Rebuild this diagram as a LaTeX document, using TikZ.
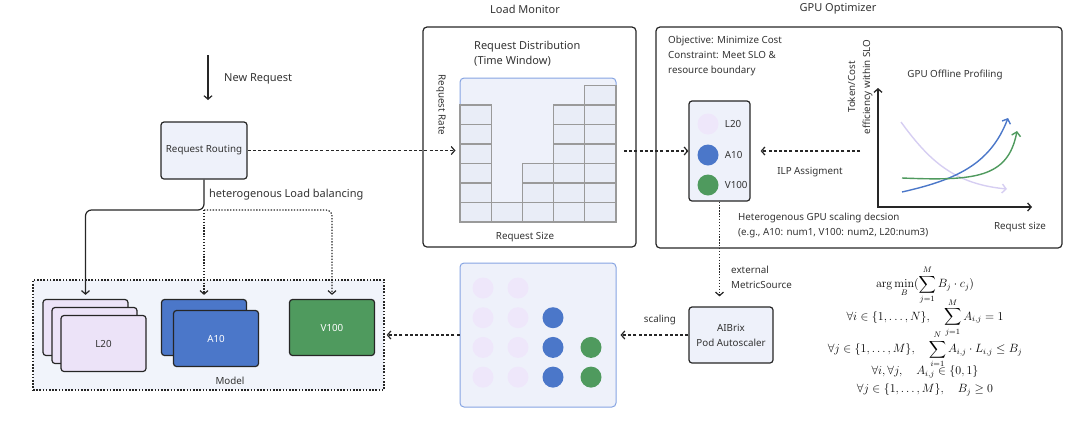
\documentclass[tikz,border=0pt]{standalone}
\usepackage[no-math]{fontspec}
\setmainfont{Noto Sans}
\usepackage{amsmath}
\usetikzlibrary{arrows.meta,positioning,calc}
\definecolor{ink}{HTML}{262626}
\definecolor{txt}{HTML}{333333}
\definecolor{palebox}{HTML}{EEF1FA}
\definecolor{zonefill}{HTML}{F1F4FB}
\definecolor{lavfill}{HTML}{ECE3F8}
\definecolor{lavdot}{HTML}{EEE7FA}
\definecolor{lavline}{HTML}{D6CEF2}
\definecolor{gpublue}{HTML}{4B77C9}
\definecolor{gpugreen}{HTML}{4F9A5E}
\definecolor{framebl}{HTML}{86A4E2}
\definecolor{cellgray}{HTML}{9A9A9A}
\definecolor{cellfill}{HTML}{E9EDF7}
\newcommand{\titlefont}{\fontsize{11}{14}\selectfont}
\newcommand{\lblfont}{\fontsize{11}{15}\selectfont}
\newcommand{\smfont}{\fontsize{9.8}{15}\selectfont}
\tikzset{
  card/.style    ={rounded corners=3pt,draw=ink,line width=1.2pt,fill=palebox,
                   align=center,inner sep=0pt,font=\smfont,text=txt},
  panel/.style   ={rounded corners=4pt,draw=ink,line width=1.2pt,inner sep=0pt},
  tray/.style    ={rounded corners=4pt,draw=framebl,line width=1pt,fill=palebox,
                   inner sep=0pt,minimum width=156pt,minimum height=144pt},
  gpucard/.style ={rounded corners=3pt,draw=ink,line width=1.2pt,inner sep=0pt,
                   minimum width=85pt,minimum height=56pt,font=\smfont},
  zone/.style    ={draw=ink,line width=1.2pt,dash pattern=on 1.6pt off 1.6pt,
                   fill=zonefill,inner sep=0pt},
  dot/.style     ={circle,inner sep=0pt,minimum size=21pt},
  cell/.style    ={draw=cellgray,line width=1.3pt,fill=cellfill,inner sep=0pt,
                   minimum width=31.2pt,minimum height=19.5pt},
  lbl/.style     ={font=\lblfont,text=txt,inner sep=0pt},
  flow/.style    ={-{Straight Barb[length=3.5pt,width=8pt]},line width=1.2pt,draw=ink},
  dashflow/.style={flow,dash pattern=on 3pt off 2.2pt},
  dotflow/.style ={flow,dash pattern=on 1.3pt off 1.6pt},
  curve/.style   ={-{Straight Barb[length=4pt,width=9pt]},line width=1.4pt}
}

\begin{document}
\begin{tikzpicture}[x=1pt,y=-1pt]
  \useasboundingbox (0,0) rectangle (1080,424);
  % request entry and routing
  \coordinate (newin) at (208,55);
  \coordinate (newout) at (208,100);
  \draw[flow] (newin) -- (newout);
  \node[lbl,anchor=west] at (224,79) {New Request};
  \node[card,minimum width=86pt,minimum height=57pt] (route) at (204,150.5) {Request Routing};
  \node[lbl,anchor=west] at (209,195) {heterogenous Load balancing};

  % model pool
  \node[zone,minimum width=351pt,minimum height=110pt] (model) at (208.5,335) {};
  \node[lbl,font=\smfont] at (230,381) {Model};
  \node[gpucard,fill=lavfill] (l20a) at (85.5,327.5) {};
  \node[gpucard,fill=lavfill] (l20b) at (94.5,335.5) {};
  \node[gpucard,fill=lavfill,text=txt] (l20c) at (103.5,343.5) {L20};
  \node[gpucard,fill=gpublue] (a10a) at (204,327.5) {};
  \node[gpucard,fill=gpublue,text=white] (a10b) at (216,338.5) {A10};
  \node[gpucard,fill=gpugreen,text=white] (v100) at (332,327.5) {V100};

  \coordinate (split) at (204,210);
  \draw[flow,rounded corners=6pt,shorten >=4pt] (route.south) -- (split) -| (l20a.north);
  \draw[dotflow,shorten >=4pt] (split) -- (a10a.north);
  \draw[dotflow,rounded corners=6pt,shorten >=4pt] (split) -| (v100.north);

  % load monitor
  \node[panel,minimum width=213pt,minimum height=220pt] (monitor) at (529.5,137) {};
  \node[lbl,font=\titlefont] at (525,9) {Load Monitor};
  \node[lbl,align=left,anchor=north west,font=\lblfont] at (474,41) {Request Distribution\\(Time Window)};
  \node[tray] (histo) at (538,150) {};
  \foreach \c/\n in {1/6,2/1,3/3,4/6,5/7}
    \foreach \r in {1,...,\n}
      \node[cell] at (444.4+31.2*\c, 231.75-19.5*\r) {};
  \node[lbl,font=\smfont,rotate=-90] at (441,105) {Request Rate};
  \node[lbl,font=\smfont] at (525,237) {Request Size};
  \draw[dashflow,shorten >=4pt] (route.east) -- (route.east -| histo.west);

  % gpu optimizer
  \node[panel,minimum width=406pt,minimum height=221pt] (optim) at (859,137.5) {};
  \node[lbl,font=\titlefont] at (838,9) {GPU Optimizer};
  \node[lbl,align=left,anchor=north west,font=\smfont] at (668,36)
    {Objective: Minimize Cost\\Constraint: Meet SLO \&\\resource boundary};
  \node[card,minimum width=61pt,minimum height=100pt] (gpulist) at (719.5,151) {};
  \foreach \nm/\col/\yy in {L20/lavdot/124,A10/gpublue/155,V100/gpugreen/185} {
    \node[dot,fill=\col] (g\nm) at (708,\yy) {};
    \node[lbl,font=\smfont,right=6pt of g\nm] {\nm};
  }
  \coordinate (histout) at (624,151);
  \draw[dashflow] (histout) -- (gpulist.west);
  \coordinate (ilpin) at (860,151);
  \draw[dashflow,shorten >=10pt] (ilpin) -- (gpulist.east |- ilpin);
  \node[lbl,font=\smfont] at (810,172) {ILP Assigment};

  % offline profiling plot
  \coordinate (orig) at (878,207);
  \coordinate (ytop) at (878,88);
  \coordinate (xend) at (1032,207);
  \draw[{Straight Barb[length=3.5pt,width=8pt]}-{Straight Barb[length=3.5pt,width=8pt]},
        line width=1.3pt,draw=ink] (ytop) -- (orig) -- (xend);
  \node[lbl,font=\smfont,align=center,rotate=90] at (860,87) {Token/Cost\\efficiency within SLO};
  \node[lbl,font=\smfont] at (955,75) {GPU Offline Profiling};
  \node[lbl,font=\smfont] at (1020,227) {Requst size};
  \draw[curve,lavline] (901,122) .. controls (930,162) and (955,184) .. (1007,189);
  \draw[curve,gpublue] (902,192) .. controls (955,180) and (990,165) .. (1008,118);
  \draw[curve,gpugreen] (902,178) .. controls (975,181) and (1008,178) .. (1017,131);
  \node[lbl,font=\smfont,align=left,anchor=west] at (738,225)
    {Heterogenous GPU scaling decsion\\(e.g., A10: num1, V100: num2, L20:num3)};

  % autoscaler and pods
  \node[card,minimum width=84pt,minimum height=56pt] (autosc) at (731,335) {AIBrix\\Pod Autoscaler};
  \draw[dotflow,shorten >=10pt] (gpulist.south) -- (gpulist.south |- autosc.north);
  \node[lbl,font=\smfont,align=left,anchor=west] at (731,277) {external\\MetricSource};
  \node[tray] (pool) at (538,335) {};
  \foreach \x/\col/\top in {483/lavdot/1,518/lavdot/1,553/gpublue/2,591/gpugreen/3}
    \foreach \r in {\top,...,4}
      \node[dot,fill=\col] at (\x,258.3+29.7*\r) {};
  \draw[dashflow,shorten >=4pt] (autosc.west) -- (pool.east);
  \node[lbl,font=\smfont] at (660,320) {scaling};
  \draw[dashflow,shorten >=2pt] (pool.west) -- (model.east);

  % ILP formulation
  \node[inner sep=0pt,anchor=north,font=\fontsize{12}{14}\selectfont] (ilp) at (925,266) {$\begin{gathered}
    \arg\min_{B}(\sum_{j=1}^{M} B_j\cdot c_j)\\[-10pt]
    \forall i\in\{1,\ldots,N\},\quad \sum_{j=1}^{M} A_{i,j}=1\\[-10pt]
    \forall j\in\{1,\ldots,M\},\quad \sum_{i=1}^{N} A_{i,j}\cdot L_{i,j}\le B_j\\[-7pt]
    \forall i,\forall j,\quad A_{i,j}\in\{0,1\}\\[1pt]
    \forall j\in\{1,\ldots,M\},\quad B_j\ge 0
  \end{gathered}$};
\end{tikzpicture}
\end{document}
